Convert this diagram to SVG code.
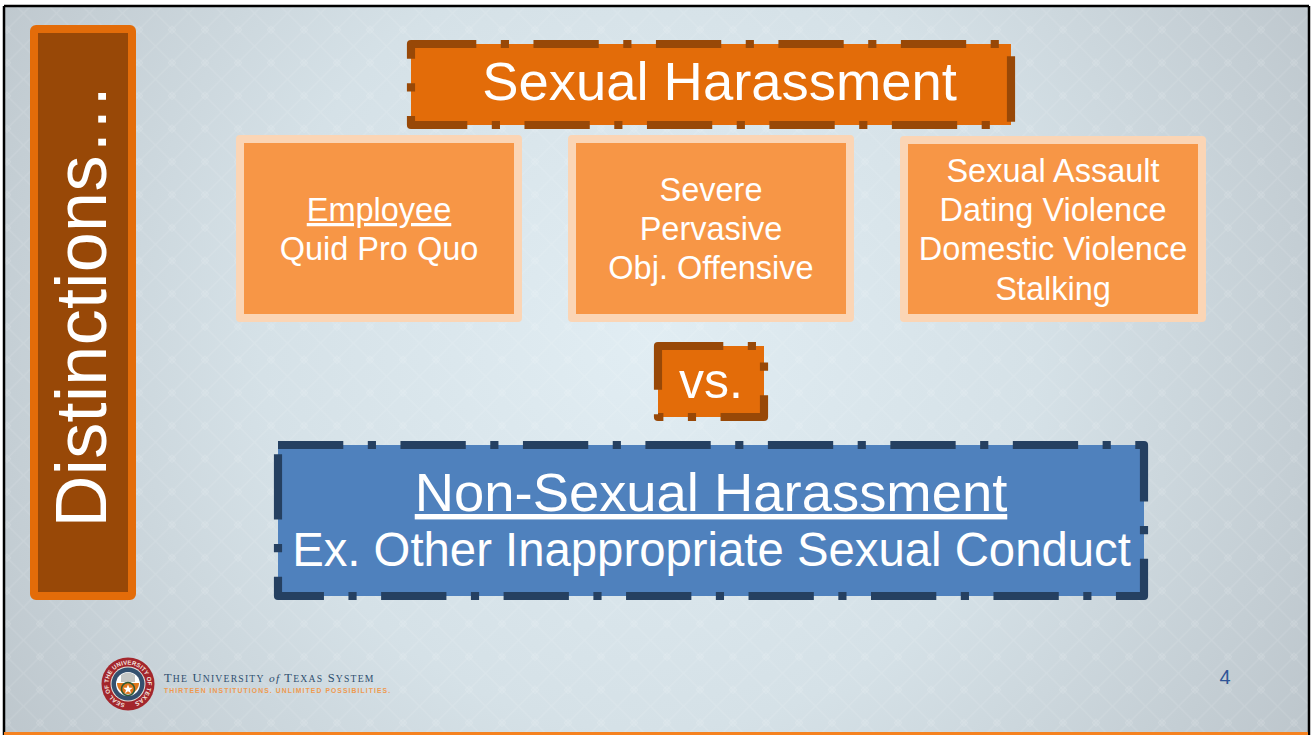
<svg xmlns="http://www.w3.org/2000/svg" width="1312" height="735" viewBox="0 0 1312 735">
<style>
.t{font-family:"Liberation Sans",Arial,sans-serif;fill:#fff;text-anchor:middle}
.dd{fill:none;stroke-width:8.17;stroke-dasharray:65.3 24.5 8.17 24.5;stroke-linejoin:round}
.lt{fill:#f79646;stroke:#fbd5b5;stroke-width:8;stroke-linejoin:round}
</style>
<defs>
<radialGradient id="bg" gradientUnits="userSpaceOnUse" cx="650" cy="340" r="780">
<stop offset="0" stop-color="#e1edf3"/><stop offset="0.5" stop-color="#d5e1e7"/><stop offset="1" stop-color="#bcc5cb"/>
</radialGradient>
<pattern id="lat" patternUnits="userSpaceOnUse" width="33" height="33" patternTransform="translate(7 29.700)">
<path d="M0 0L33 33M33 0L0 33" stroke="#fff" stroke-opacity=".1" stroke-width="1.300" fill="none"/>
<path d="M0 -4L4 0L0 4L-4 0ZM33 -4L37 0L33 4L29 0ZM0 29L4 33L0 37L-4 33ZM33 29L37 33L33 37L29 33Z" fill="#fff" fill-opacity=".06" stroke="#fff" stroke-opacity=".1" stroke-width="1"/>
</pattern>
</defs>
<rect width="1312" height="735" fill="#fff"/>
<g id="background">
<rect x="4" y="6" width="1304" height="729" fill="url(#bg)"/>
<rect x="4" y="6" width="1304" height="729" fill="url(#lat)"/>
<path d="M4 6H1309M4 6V735M1309 6V735" fill="none" stroke="#000" stroke-width="2.500"/>
<rect x="4" y="732" width="1304" height="3" fill="#f58220"/>
</g>
<g id="side-title">
<rect x="34" y="29" width="98" height="567" rx="2" fill="#984807" stroke="#e36c09" stroke-width="8" stroke-linejoin="round"/>
<text class="t" transform="translate(105.500 527.500) rotate(-90)" style="text-anchor:start" font-size="72" letter-spacing=".35">Distinctions…</text>
</g>
<g id="sexual-harassment">
<path class="dd" d="M411 44H1011V125H411Z" style="fill:#e36c09" stroke="#984807"/>
<text class="t" x="719.500" y="100" font-size="54.400">Sexual Harassment</text>
</g>
<g id="employee">
<rect class="lt" x="240" y="139" width="278" height="179"/>
<text class="t" x="379" y="221" font-size="32.500" text-decoration="underline">Employee</text>
<text class="t" x="379" y="260" font-size="32.500">Quid Pro Quo</text>
</g>
<g id="severe">
<rect class="lt" x="572" y="139" width="278" height="179"/>
<text class="t" x="711" y="201" font-size="32.500">Severe</text>
<text class="t" x="711" y="240" font-size="32.500">Pervasive</text>
<text class="t" x="711" y="279" font-size="32.500">Obj. Offensive</text>
</g>
<g id="assault">
<rect class="lt" x="904" y="140" width="298" height="178"/>
<text class="t" x="1053" y="182" font-size="32.500">Sexual Assault</text>
<text class="t" x="1053" y="221" font-size="32.500">Dating Violence</text>
<text class="t" x="1053" y="260" font-size="32.500">Domestic Violence</text>
<text class="t" x="1053" y="300" font-size="32.500">Stalking</text>
</g>
<g id="vs">
<path class="dd" d="M658 346H764V417H658Z" style="fill:#e36c09;stroke-dasharray:65.3 24.5 8.17 24.5 8.17 24.5" stroke="#984807"/>
<text class="t" x="711" y="398" font-size="50">vs.</text>
</g>
<g id="non-sexual-harassment">
<path class="dd" d="M278 445H1144V596H278Z" style="fill:#4f81bd" stroke="#254061"/>
<text class="t" x="711" y="511" font-size="54.400" text-decoration="underline">Non-Sexual Harassment</text>
<text class="t" x="711.500" y="566" font-size="47.300">Ex. Other Inappropriate Sexual Conduct</text>
</g>
<g id="logo">
<circle cx="128" cy="684" r="26.500" fill="#a3262c"/>
<circle cx="128" cy="684" r="17.500" fill="#e8e4dc"/>
<circle cx="128" cy="684" r="16.500" fill="#34506e"/>
<circle cx="128" cy="684" r="12" fill="#fff"/>
<path d="M117 683H139A11 11 0 0 1 117 683Z" fill="#e0761c"/>
<path d="M121 682V675Q128 670 135 675V682Z" fill="#c4c6c4"/>
<circle cx="128" cy="689" r="6.500" fill="none" stroke="#2f5a34" stroke-width="1.500"/>
<path d="M128 684.500L129.300 687.800H132.800L130 689.900L131 693.300L128 691.200L125 693.300L126 689.900L123.200 687.800H126.700Z" fill="#fff"/>
<path id="seal" d="M128 703.500a19.500 19.500 0 1 1 0 -39a19.500 19.500 0 1 1 0 39" fill="none"/>
<text font-family="Liberation Sans,Arial,sans-serif" font-size="6" font-weight="bold" fill="#f4e8e0" letter-spacing=".1"><textPath href="#seal" startOffset="3">SEAL OF THE UNIVERSITY OF TEXAS</textPath></text>
<text x="164" y="682" font-family="Liberation Serif,Times New Roman,serif" font-size="12.500" letter-spacing="1.200" fill="#2f4f6f">T<tspan font-size="9.700">HE</tspan> U<tspan font-size="9.700">NIVERSITY</tspan> <tspan font-style="italic" font-size="11.400">of</tspan> T<tspan font-size="9.700">EXAS</tspan> S<tspan font-size="9.700">YSTEM</tspan></text>
<text x="164" y="693" font-family="Liberation Sans,Arial,sans-serif" font-size="6.800" font-weight="bold" letter-spacing="1.080" fill="#ef9a50">THIRTEEN INSTITUTIONS. UNLIMITED POSSIBILITIES.</text>
</g>
<text id="page" x="1225" y="684" font-family="Liberation Sans,Arial,sans-serif" font-size="20" fill="#2f5597" text-anchor="middle">4</text>
</svg>
